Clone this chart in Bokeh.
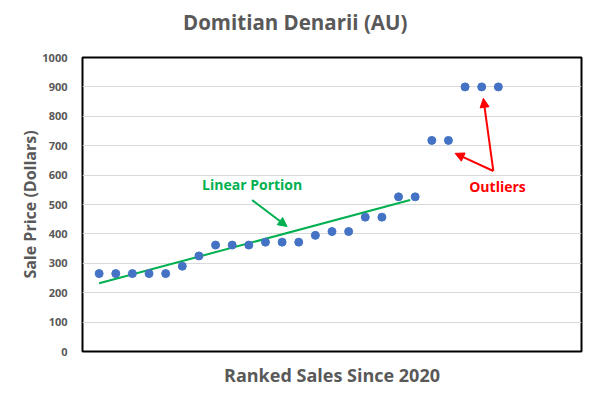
from bokeh.plotting import figure
from bokeh.models import Range1d, FixedTicker, Arrow, NormalHead, Label, Div
from bokeh.layouts import column
from bokeh.embed import file_html
from bokeh.resources import INLINE

# Data
rank = list(range(1, 26))
price = [265, 265, 265, 265, 265, 290, 325, 362, 362, 362, 372, 372, 372,
         395, 408, 408, 457, 457, 526, 526, 718, 718, 900, 900, 900]
trend_x = [1.0, 19.7]
trend_y = [232, 515]
y_ticks = [0, 100, 200, 300, 400, 500, 600, 700, 800, 900, 1000]
title_text = "Domitian Denarii (AU)"

FONT = "Open Sans"
GRAY = "#595959"

title_div = Div(
    text=(f'<div style="font-family:\'Open Sans\';font-weight:bold;font-size:20.5px;'
          f'color:{GRAY};line-height:44px;height:44px;white-space:nowrap;'
          f'margin-left:183px;">{title_text}</div>'),
    width=584, height=44, margin=(0, 0, 0, 0))

p = figure(width=584, height=345, output_backend="svg", toolbar_location=None,
           x_range=Range1d(0, 30), y_range=Range1d(0, 1000),
           min_border_left=82, min_border_right=3, min_border_top=13, min_border_bottom=36,
           margin=(0, 0, 0, 0))

p.outline_line_color = "black"
p.outline_line_width = 2
p.outline_line_alpha = 1
p.background_fill_color = "white"
p.border_fill_color = "white"

p.xgrid.grid_line_color = None
p.ygrid.grid_line_color = "#d9d9d9"
p.ygrid.grid_line_width = 1

# x axis
p.xaxis.ticker = FixedTicker(ticks=[])
p.xaxis.axis_line_color = None
p.xaxis.major_tick_line_color = None
p.xaxis.minor_tick_line_color = None
p.xaxis.axis_label = "Ranked Sales Since 2020"
p.xaxis.axis_label_text_font = FONT
p.xaxis.axis_label_text_font_style = "bold"
p.xaxis.axis_label_text_font_size = "18px"
p.xaxis.axis_label_text_color = GRAY
p.xaxis.axis_label_standoff = 11

# y axis
p.yaxis.ticker = FixedTicker(ticks=y_ticks)
p.yaxis.axis_line_color = None
p.yaxis.major_tick_line_color = None
p.yaxis.minor_tick_line_color = None
p.yaxis.major_label_text_font = FONT
p.yaxis.major_label_text_font_style = "bold"
p.yaxis.major_label_text_font_size = "11px"
p.yaxis.major_label_text_color = GRAY
p.yaxis.major_label_standoff = 9
p.yaxis.axis_label = "Sale Price (Dollars)"
p.yaxis.axis_label_text_font = FONT
p.yaxis.axis_label_text_font_style = "bold"
p.yaxis.axis_label_text_font_size = "16px"
p.yaxis.axis_label_text_color = GRAY
p.yaxis.axis_label_standoff = -2

# trend line
p.line(trend_x, trend_y, line_color="#00B050", line_width=2)

# points
p.scatter(rank, price, size=8, fill_color="#4472C4", line_color="#4472C4")

# annotations
p.add_layout(Label(x=10.2, y=569, text="Linear Portion", text_font=FONT,
                   text_font_style="bold", text_font_size="14px", text_color="#00B050",
                   text_align="center", text_baseline="middle"))
p.add_layout(Arrow(x_start=10.2, y_start=515, x_end=12.3, y_end=425,
                   line_color="#00B050", line_width=2,
                   end=NormalHead(size=9, fill_color="#00B050", line_color="#00B050")))

p.add_layout(Label(x=24.95, y=562, text="Outliers", text_font=FONT,
                   text_font_style="bold", text_font_size="14px", text_color="#FF0000",
                   text_align="center", text_baseline="middle"))
p.add_layout(Arrow(x_start=24.7, y_start=614, x_end=22.4, y_end=674,
                   line_color="#FF0000", line_width=2,
                   end=NormalHead(size=9, fill_color="#FF0000", line_color="#FF0000")))
p.add_layout(Arrow(x_start=24.7, y_start=614, x_end=24.1, y_end=861,
                   line_color="#FF0000", line_width=2,
                   end=NormalHead(size=9, fill_color="#FF0000", line_color="#FF0000")))

layout = column(title_div, p, spacing=0)
open("out.html", "w").write(file_html(layout, INLINE))
